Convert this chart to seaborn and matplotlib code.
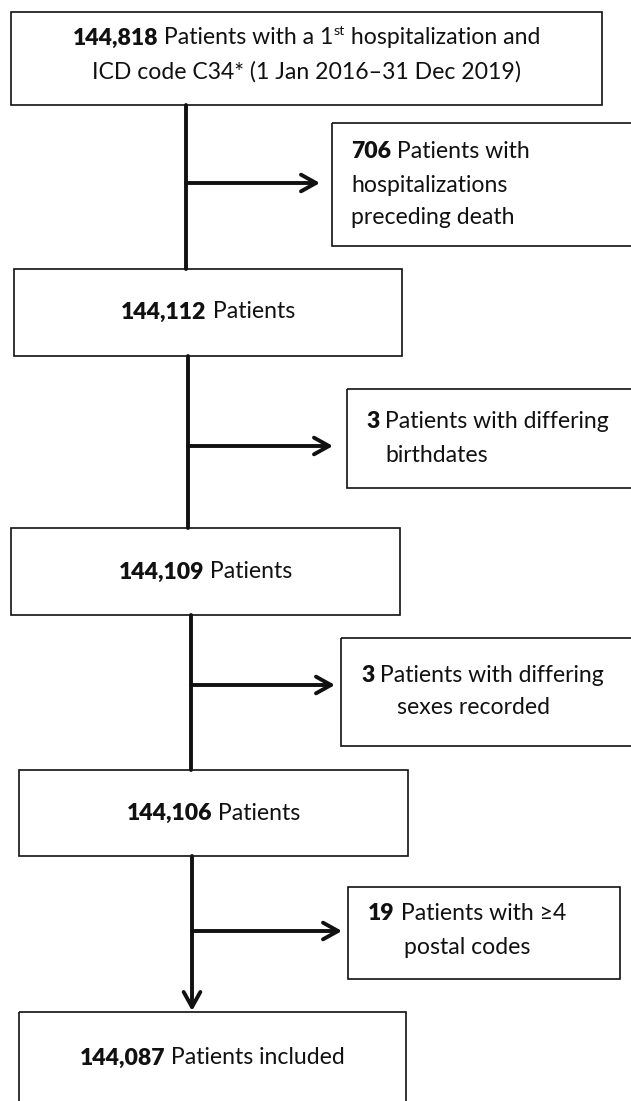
import matplotlib
matplotlib.use("Agg")
import matplotlib.pyplot as plt
from matplotlib.patches import Rectangle
import seaborn as sns

# ---- data ----
main_counts = ["144,818", "144,112", "144,109", "144,106", "144,087"]
main_line1 = [" Patients with a 1", " Patients", " Patients", " Patients", " Patients included"]
main_sup = "st"
main_line1_tail = " hospitalization and"
main_line2 = "ICD code C34* (1 Jan 2016\u201331 Dec 2019)"

excl_counts = ["706", "3", "3", "19"]
excl_line1 = [" Patients with", " Patients with differing", " Patients with differing", " Patients with \u22654"]
excl_rest = [["hospitalizations", "preceding death"], ["birthdates"], ["sexes recorded"], ["postal codes"]]

W, H = 631, 1101
sns.set_theme(style="white")
plt.rcParams['font.family'] = ['Lato', 'DejaVu Sans']
FS = 16.6

fig = plt.figure(figsize=(W / 100, H / 100), dpi=100)
ax = fig.add_axes([0, 0, 1, 1])
ax.set_xlim(0, W)
ax.set_ylim(H, 0)
ax.axis("off")
fig.canvas.draw()
renderer = fig.canvas.get_renderer()


def width_of(s, weight="normal", size=FS):
    t = ax.text(0, 0, s, fontsize=size, fontweight=weight)
    w = t.get_window_extent(renderer).width
    t.remove()
    return w


def runs(x, y, pieces, ha="left"):
    widths = [width_of(s, wt, sz) for s, wt, sz, dy in pieces]
    total = sum(widths)
    cx = x - total / 2 if ha == "center" else x
    for (s, wt, sz, dy), w in zip(pieces, widths):
        ax.text(cx, y + dy, s, fontsize=sz, fontweight=wt, ha="left", va="center", color="#111111")
        cx += w


def box(x0, y0, x1, y1):
    ax.add_patch(Rectangle((x0, y0), x1 - x0, y1 - y0, fill=False, lw=1.2, ec="#111111"))


# main boxes: (x0, y0, x1, y1)
main_boxes = [(11, 12, 602, 105), (14, 269, 402, 356), (11, 528, 400, 615), (19, 770, 408, 856), (19, 1012, 406, 1120)]
main_text_y = [None, 312, 572, 813, 1058]
for i, (b, c) in enumerate(zip(main_boxes, main_counts)):
    box(*b)
    cx = (b[0] + b[2]) / 2
    if i == 0:
        runs(cx, 38, [(c, "heavy", FS, 0), (main_line1[0], "normal", FS, 0),
                      (main_sup, "normal", FS * 0.62, -7), (main_line1_tail, "normal", FS, 0)], ha="center")
        runs(cx, 72, [(main_line2, "normal", FS, 0)], ha="center")
    else:
        runs(cx, main_text_y[i], [(c, "heavy", FS, 0), (main_line1[i], "normal", FS, 0)], ha="center")

# side boxes
side_boxes = [(332, 123, 640, 246), (347, 389, 640, 488), (341, 638, 640, 746), (348, 887, 620, 979)]
side_x1 = [351, 366, 361, 368]
side_x2 = [351, 385, 397, 404]
side_y = [[152, 185, 218], [422, 456], [676, 708], [913, 947]]
for b, c, l1, rest, x1, x2, ys in zip(side_boxes, excl_counts, excl_line1, excl_rest, side_x1, side_x2, side_y):
    box(*b)
    runs(x1, ys[0], [(c, "heavy", FS, 0), (l1, "normal", FS, 0)])
    for r, yy in zip(rest, ys[1:]):
        runs(x2, yy, [(r, "normal", FS, 0)])

# trunk lines
trunk = [(186, 105, 269), (188, 356, 528), (191, 615, 770)]
for x, ya, yb in trunk:
    sns.lineplot(x=[x, x], y=[ya, yb], ax=ax, color="#111111", lw=2.8, sort=False, estimator=None)
ax.annotate("", xy=(192, 1011), xytext=(192, 856),
            arrowprops=dict(arrowstyle="->,head_length=0.9,head_width=0.5", lw=2.8, color="#111111",
                            shrinkA=0, shrinkB=0))

# side arrows
arrows = [(186, 183, 320), (188, 446, 333), (191, 685, 335), (192, 931, 342)]
for x0, y, x1 in arrows:
    ax.annotate("", xy=(x1, y), xytext=(x0, y),
                arrowprops=dict(arrowstyle="->,head_length=0.9,head_width=0.5", lw=2.8, color="#111111",
                                shrinkA=0, shrinkB=0))

fig.savefig("out.png", dpi=100, facecolor="white")
